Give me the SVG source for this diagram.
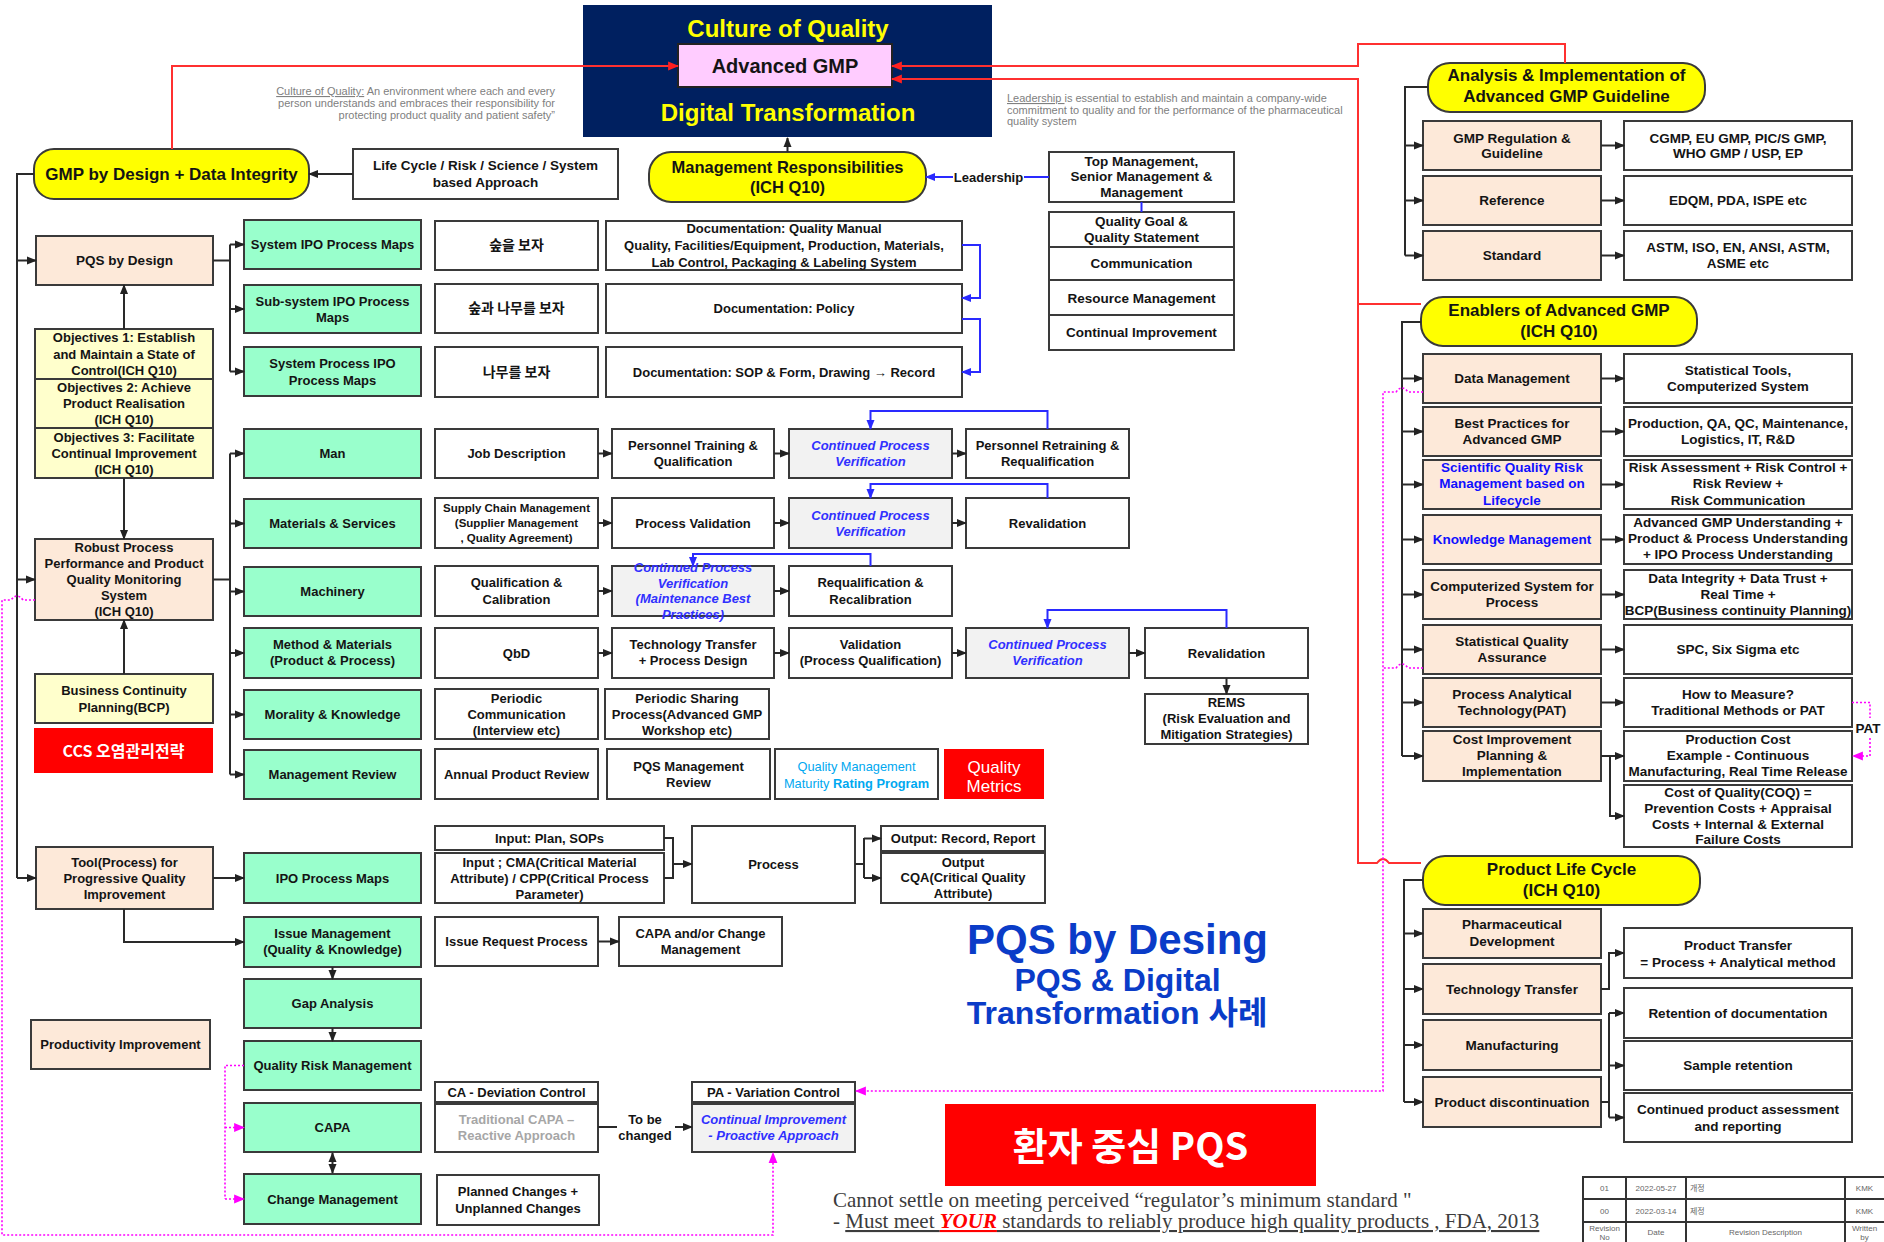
<svg xmlns="http://www.w3.org/2000/svg" width="1884" height="1242" viewBox="0 0 1884 1242">
<style>
text{font-family:"Liberation Sans","Noto Sans CJK KR",sans-serif;font-weight:700;font-size:13px;fill:#141414;text-anchor:middle}
.r text{font-size:13.5px}
.bx{stroke:#3a3a3a;stroke-width:2}
.pe{fill:#FDE9D9}.gr{fill:#99FFCC}.wh{fill:#fff}.ly{fill:#FFFFCC}.gy{fill:#F2F2F2}.yl{fill:#FFFF00}
text.ttl,.r text.ttl{font-size:17px}
.ko{font-family:"Noto Sans CJK KR",sans-serif;font-size:14px}
.cpv{fill:#3030ff;font-style:italic}
.blu{fill:#1010ff}
.note{font-weight:400;font-size:11px;fill:#808080}
.ln{fill:none;stroke:#2a2a2a;stroke-width:2}
.lb{fill:none;stroke:#2a2aff;stroke-width:2}
.lr{fill:none;stroke:#ff3030;stroke-width:2}
.lm{fill:none;stroke:#ff00ff;stroke-width:1.6;stroke-dasharray:2 2}
.tb{font-weight:400;font-size:8px;fill:#666}
</style>
<defs>
<marker id="ak" viewBox="0 0 10 10" refX="9" refY="5" markerWidth="10" markerHeight="10" markerUnits="userSpaceOnUse" orient="auto-start-reverse"><path d="M0,1 L10,5 L0,9 z" fill="#222"/></marker>
<marker id="ab" viewBox="0 0 10 10" refX="9" refY="5" markerWidth="10" markerHeight="10" markerUnits="userSpaceOnUse" orient="auto"><path d="M0,1 L10,5 L0,9 z" fill="#2a2aff"/></marker>
<marker id="ar" viewBox="0 0 10 10" refX="9" refY="5" markerWidth="11" markerHeight="11" markerUnits="userSpaceOnUse" orient="auto"><path d="M0,1 L10,5 L0,9 z" fill="#ff2020"/></marker>
<marker id="am" viewBox="0 0 10 10" refX="9" refY="5" markerWidth="11" markerHeight="11" markerUnits="userSpaceOnUse" orient="auto"><path d="M0,1 L10,5 L0,9 z" fill="#ff00ff"/></marker>
</defs>
<rect width="1884" height="1242" fill="#fff"/>

<!-- Top block: culture of quality -->
<g id="n-culture">
<rect x="583" y="5" width="409" height="132" fill="#002060"/>
<text x="788" y="37" style="font-size:24px;fill:#ffff00">Culture of Quality</text>
<text x="788" y="121" style="font-size:24px;fill:#ffff00">Digital Transformation</text>
</g>
<g id="n-advanced-gmp">
<rect x="678" y="44" width="214" height="43" fill="#FFCCFF" stroke="#222" stroke-width="2"/>
<text x="785" y="73" style="font-size:20px">Advanced GMP</text>
</g>
<g id="n-culture-note">
<text class="note" style="text-anchor:end" x="555" y="95"><tspan text-decoration="underline">Culture of Quality:</tspan> An environment where each and every</text>
<text class="note" style="text-anchor:end" x="555" y="107">person understands and embraces their responsibility for</text>
<text class="note" style="text-anchor:end" x="555" y="119">protecting product quality and patient safety”</text>
</g>
<g id="n-leadership-note">
<text class="note" style="text-anchor:start" x="1007" y="102"><tspan text-decoration="underline">Leadership </tspan>is essential to establish and maintain a company-wide</text>
<text class="note" style="text-anchor:start" x="1007" y="114">commitment to quality and for the performance of the pharmaceutical</text>
<text class="note" style="text-anchor:start" x="1007" y="125">quality system</text>
</g>

<!-- Management responsibilities -->
<g id="n-mgmt-resp">
<rect class="bx yl" x="649" y="152" width="277" height="50" rx="22"/>
<text x="787.5" y="173" style="font-size:16.5px">Management Responsibilities</text>
<text x="787.5" y="193" style="font-size:16.5px">(ICH Q10)</text>
</g>
<g id="n-top-mgmt">
<rect class="bx wh" x="1049" y="152" width="185" height="50"/>
<text x="1141.5" y="165.6" style="font-size:13.5px">Top Management,</text>
<text x="1141.5" y="181" style="font-size:13.5px">Senior Management &amp;</text>
<text x="1141.5" y="197" style="font-size:13.5px">Management</text>
</g>
<g id="n-quality-goal"><rect class="bx wh" x="1049" y="212" width="185" height="35"/>
<text x="1141.5" y="225.6" style="font-size:13.5px">Quality Goal &amp;</text><text x="1141.5" y="241.6" style="font-size:13.5px">Quality Statement</text></g>
<g id="n-communication"><rect class="bx wh" x="1049" y="247" width="185" height="33"/><text x="1141.5" y="268" style="font-size:13.5px">Communication</text></g>
<g id="n-resource"><rect class="bx wh" x="1049" y="280" width="185" height="35"/><text x="1141.5" y="302.6" style="font-size:13.5px">Resource Management</text></g>
<g id="n-continual"><rect class="bx wh" x="1049" y="315" width="185" height="35"/><text x="1141.5" y="336.6" style="font-size:13.5px">Continual Improvement</text></g>

<!-- Left column -->
<g id="n-gmp-design"><rect class="bx yl" x="34" y="149" width="275" height="50" rx="20"/><text class="ttl" x="171.5" y="180">GMP by Design + Data Integrity</text></g>
<g id="n-lifecycle"><rect class="bx wh" x="353" y="149" width="265" height="50"/>
<text x="485.5" y="170" style="font-size:13.5px">Life Cycle / Risk / Science / System</text><text x="485.5" y="187" style="font-size:13.5px">based Approach</text></g>
<g id="n-pqs-design"><rect class="bx pe" x="36" y="236" width="177" height="49"/><text x="124.5" y="265" style="font-size:13.5px">PQS by Design</text></g>
<g id="n-obj1"><rect class="bx ly" x="35" y="329" width="178" height="50"/>
<text x="124" y="342.3">Objectives 1: Establish</text><text x="124" y="358.6">and Maintain a State of</text><text x="124" y="374.9">Control(ICH Q10)</text></g>
<g id="n-obj2"><rect class="bx ly" x="35" y="379" width="178" height="49"/>
<text x="124" y="392">Objectives 2: Achieve</text><text x="124" y="408">Product Realisation</text><text x="124" y="424">(ICH Q10)</text></g>
<g id="n-obj3"><rect class="bx ly" x="35" y="428" width="178" height="50"/>
<text x="124" y="441.6">Objectives 3: Facilitate</text><text x="124" y="457.6">Continual Improvement</text><text x="124" y="473.6">(ICH Q10)</text></g>
<g id="n-robust"><rect class="bx pe" x="35" y="539" width="178" height="81"/>
<text x="124" y="551.6">Robust Process</text><text x="124" y="567.6">Performance and Product</text><text x="124" y="583.6">Quality Monitoring</text><text x="124" y="599.6">System</text><text x="124" y="615.6">(ICH Q10)</text></g>
<g id="n-bcp"><rect class="bx ly" x="35" y="674" width="178" height="49"/>
<text x="124" y="694.6">Business Continuity</text><text x="124" y="711.6">Planning(BCP)</text></g>
<g id="n-ccs"><rect x="34" y="728" width="179" height="45" fill="#ff0000"/>
<text x="123.5" y="757" style="font-family:'Noto Sans CJK KR',sans-serif;font-size:16px;fill:#fff">CCS 오염관리전략</text></g>
<g id="n-tool"><rect class="bx pe" x="36" y="847" width="177" height="62"/>
<text x="124.5" y="866.6">Tool(Process) for</text><text x="124.5" y="882.6">Progressive Quality</text><text x="124.5" y="898.6">Improvement</text></g>
<g id="n-productivity"><rect class="bx pe" x="31" y="1020" width="179" height="49"/><text x="120.5" y="1049">Productivity Improvement</text></g>

<!-- Green column -->
<g id="n-sys-ipo"><rect class="bx gr" x="244" y="220" width="177" height="49"/><text x="332.5" y="249">System IPO Process Maps</text></g>
<g id="n-subsys-ipo"><rect class="bx gr" x="244" y="285" width="177" height="48"/><text x="332.5" y="305.6">Sub-system IPO Process</text><text x="332.5" y="321.6">Maps</text></g>
<g id="n-sysproc-ipo"><rect class="bx gr" x="244" y="347" width="177" height="49"/><text x="332.5" y="367.6">System Process IPO</text><text x="332.5" y="384.6">Process Maps</text></g>
<g id="n-man"><rect class="bx gr" x="244" y="429" width="177" height="49"/><text x="332.5" y="458">Man</text></g>
<g id="n-materials"><rect class="bx gr" x="244" y="499" width="177" height="49"/><text x="332.5" y="528">Materials &amp; Services</text></g>
<g id="n-machinery"><rect class="bx gr" x="244" y="567" width="177" height="49"/><text x="332.5" y="596">Machinery</text></g>
<g id="n-method"><rect class="bx gr" x="244" y="628" width="177" height="50"/><text x="332.5" y="648.6">Method &amp; Materials</text><text x="332.5" y="664.6">(Product &amp; Process)</text></g>
<g id="n-morality"><rect class="bx gr" x="244" y="690" width="177" height="49"/><text x="332.5" y="719">Morality &amp; Knowledge</text></g>
<g id="n-mgmt-review"><rect class="bx gr" x="244" y="750" width="177" height="49"/><text x="332.5" y="779">Management Review</text></g>
<g id="n-ipo"><rect class="bx gr" x="244" y="853" width="177" height="50"/><text x="332.5" y="882.6">IPO Process Maps</text></g>
<g id="n-issue"><rect class="bx gr" x="244" y="917" width="177" height="50"/><text x="332.5" y="937.6">Issue Management</text><text x="332.5" y="953.6">(Quality &amp; Knowledge)</text></g>
<g id="n-gap"><rect class="bx gr" x="244" y="979" width="177" height="49"/><text x="332.5" y="1008">Gap Analysis</text></g>
<g id="n-qrm"><rect class="bx gr" x="244" y="1041" width="177" height="49"/><text x="332.5" y="1070">Quality Risk Management</text></g>
<g id="n-capa"><rect class="bx gr" x="244" y="1103" width="177" height="49"/><text x="332.5" y="1132">CAPA</text></g>
<g id="n-change"><rect class="bx gr" x="244" y="1174" width="177" height="50"/><text x="332.5" y="1203.6">Change Management</text></g>

<!-- Documentation rows -->
<g id="n-forest"><rect class="bx wh" x="435" y="221" width="163" height="49"/><text class="ko" x="516.5" y="250">숲을 보자</text></g>
<g id="n-forest-tree"><rect class="bx wh" x="435" y="284" width="163" height="49"/><text class="ko" x="516.5" y="313">숲과 나무를 보자</text></g>
<g id="n-tree"><rect class="bx wh" x="435" y="347" width="163" height="50"/><text class="ko" x="516.5" y="377">나무를 보자</text></g>
<g id="n-doc-manual"><rect class="bx wh" x="606" y="221" width="356" height="49"/>
<text x="784" y="232.6">Documentation: Quality Manual</text><text x="784" y="249.6">Quality, Facilities/Equipment, Production, Materials,</text><text x="784" y="266.6">Lab Control, Packaging &amp; Labeling System</text></g>
<g id="n-doc-policy"><rect class="bx wh" x="606" y="284" width="356" height="49"/><text x="784" y="313">Documentation: Policy</text></g>
<g id="n-doc-sop"><rect class="bx wh" x="606" y="347" width="356" height="50"/><text x="784" y="377">Documentation: SOP &amp; Form, Drawing → Record</text></g>

<!-- Man row -->
<g id="n-job"><rect class="bx wh" x="435" y="429" width="163" height="49"/><text x="516.5" y="458">Job Description</text></g>
<g id="n-training"><rect class="bx wh" x="612" y="429" width="162" height="49"/><text x="693" y="449.6">Personnel Training &amp;</text><text x="693" y="465.6">Qualification</text></g>
<g id="n-cpv-man"><rect class="bx gy" x="789" y="429" width="163" height="49"/><text class="cpv" x="870.5" y="449.6">Continued Process</text><text class="cpv" x="870.5" y="465.6">Verification</text></g>
<g id="n-retraining"><rect class="bx wh" x="966" y="429" width="163" height="49"/><text x="1047.5" y="449.6">Personnel Retraining &amp;</text><text x="1047.5" y="465.6">Requalification</text></g>

<!-- Materials row -->
<g id="n-supply"><rect class="bx wh" x="435" y="498" width="163" height="50"/>
<text x="516.5" y="512" style="font-size:11.5px">Supply Chain Management</text><text x="516.5" y="527" style="font-size:11.5px">(Supplier Management</text><text x="516.5" y="542" style="font-size:11.5px">, Quality Agreement)</text></g>
<g id="n-proc-val"><rect class="bx wh" x="612" y="498" width="162" height="50"/><text x="693" y="527.6">Process Validation</text></g>
<g id="n-cpv-mat"><rect class="bx gy" x="789" y="498" width="163" height="50"/><text class="cpv" x="870.5" y="519.6">Continued Process</text><text class="cpv" x="870.5" y="535.6">Verification</text></g>
<g id="n-reval-mat"><rect class="bx wh" x="966" y="498" width="163" height="50"/><text x="1047.5" y="527.6">Revalidation</text></g>

<!-- Machinery row -->
<g id="n-qual-cal"><rect class="bx wh" x="435" y="566" width="163" height="50"/><text x="516.5" y="586.6">Qualification &amp;</text><text x="516.5" y="603.6">Calibration</text></g>
<g id="n-cpv-mach"><rect class="bx gy" x="612" y="566" width="162" height="50"/>
<text class="cpv" x="693" y="571.6">Continued Process</text><text class="cpv" x="693" y="587.6">Verification</text><text class="cpv" x="693" y="602.6">(Maintenance Best</text><text class="cpv" x="693" y="618.6">Practices)</text></g>
<g id="n-requal"><rect class="bx wh" x="789" y="566" width="163" height="50"/><text x="870.5" y="586.6">Requalification &amp;</text><text x="870.5" y="603.6">Recalibration</text></g>

<!-- Method row -->
<g id="n-qbd"><rect class="bx wh" x="435" y="628" width="163" height="50"/><text x="516.5" y="657.6">QbD</text></g>
<g id="n-tech-design"><rect class="bx wh" x="612" y="628" width="162" height="50"/><text x="693" y="648.6">Technology Transfer</text><text x="693" y="665">+ Process Design</text></g>
<g id="n-validation"><rect class="bx wh" x="789" y="628" width="163" height="50"/><text x="870.5" y="648.6">Validation</text><text x="870.5" y="665">(Process Qualification)</text></g>
<g id="n-cpv-meth"><rect class="bx gy" x="966" y="628" width="163" height="50"/><text class="cpv" x="1047.5" y="648.6">Continued Process</text><text class="cpv" x="1047.5" y="665">Verification</text></g>
<g id="n-reval-meth"><rect class="bx wh" x="1145" y="628" width="163" height="50"/><text x="1226.5" y="657.6">Revalidation</text></g>
<g id="n-rems"><rect class="bx wh" x="1145" y="694" width="163" height="50"/><text x="1226.5" y="706.6">REMS</text><text x="1226.5" y="722.6">(Risk Evaluation and</text><text x="1226.5" y="738.6">Mitigation Strategies)</text></g>

<!-- Morality row -->
<g id="n-periodic-comm"><rect class="bx wh" x="435" y="689" width="163" height="50"/><text x="516.5" y="702.6">Periodic</text><text x="516.5" y="718.6">Communication</text><text x="516.5" y="734.6">(Interview etc)</text></g>
<g id="n-periodic-share"><rect class="bx wh" x="605" y="689" width="164" height="50"/><text x="687" y="702.6">Periodic Sharing</text><text x="687" y="718.6">Process(Advanced GMP</text><text x="687" y="734.6">Workshop etc)</text></g>

<!-- Management review row -->
<g id="n-apr"><rect class="bx wh" x="435" y="749" width="163" height="50"/><text x="516.5" y="778.6">Annual Product Review</text></g>
<g id="n-pqs-review"><rect class="bx wh" x="607" y="749" width="163" height="50"/><text x="688.5" y="770.6">PQS Management</text><text x="688.5" y="786.6">Review</text></g>
<g id="n-qmmrp"><rect class="bx wh" x="775" y="749" width="163" height="50"/>
<text x="856.5" y="771" style="font-size:12.8px;font-weight:400;fill:#00a8f0">Quality Management</text>
<text x="856.5" y="788" style="font-size:12.8px;font-weight:400;fill:#00a8f0">Maturity <tspan style="font-weight:700">Rating Program</tspan></text></g>
<g id="n-metrics"><rect x="944" y="749" width="100" height="50" fill="#ff0000"/>
<text x="994" y="773" style="font-size:17px;font-weight:400;fill:#fff">Quality</text><text x="994" y="792" style="font-size:17px;font-weight:400;fill:#fff">Metrics</text></g>

<!-- IPO row -->
<g id="n-input-plan"><rect class="bx wh" x="435" y="826" width="229" height="24"/><text x="549.5" y="842.6">Input: Plan, SOPs</text></g>
<g id="n-input-cma"><rect class="bx wh" x="435" y="853" width="229" height="50"/><text x="549.5" y="866.6">Input ; CMA(Critical Material</text><text x="549.5" y="882.6">Attribute) / CPP(Critical Process</text><text x="549.5" y="898.6">Parameter)</text></g>
<g id="n-process"><rect class="bx wh" x="692" y="826" width="163" height="77"/><text x="773.5" y="869">Process</text></g>
<g id="n-output-record"><rect class="bx wh" x="881" y="826" width="164" height="25"/><text x="963" y="842.6">Output: Record, Report</text></g>
<g id="n-output-cqa"><rect class="bx wh" x="881" y="853" width="164" height="50"/><text x="963" y="867">Output</text><text x="963" y="882.3">CQA(Critical Quality</text><text x="963" y="897.6">Attribute)</text></g>

<!-- Issue row -->
<g id="n-issue-req"><rect class="bx wh" x="435" y="917" width="163" height="49"/><text x="516.5" y="946">Issue Request Process</text></g>
<g id="n-capa-change"><rect class="bx wh" x="619" y="917" width="163" height="49"/><text x="700.5" y="937.6">CAPA and/or Change</text><text x="700.5" y="953.6">Management</text></g>

<!-- CA / PA -->
<g id="n-ca"><rect class="bx wh" x="435" y="1082" width="163" height="20"/><text x="516.5" y="1097">CA - Deviation Control</text>
<rect class="bx wh" x="435" y="1104" width="163" height="48"/><text x="516.5" y="1123.6" style="fill:#a6a6a6">Traditional CAPA –</text><text x="516.5" y="1139.6" style="fill:#a6a6a6">Reactive Approach</text></g>
<g id="n-to-be"><text x="645" y="1123.6">To be</text><text x="645" y="1139.6">changed</text></g>
<g id="n-pa"><rect class="bx wh" x="692" y="1082" width="163" height="20"/><text x="773.5" y="1097">PA - Variation Control</text>
<rect class="bx gy" x="692" y="1104" width="163" height="48"/><text class="cpv" x="773.5" y="1123.6">Continual Improvement</text><text class="cpv" x="773.5" y="1139.6">- Proactive Approach</text></g>
<g id="n-planned"><rect class="bx wh" x="437" y="1175" width="162" height="50"/><text x="518" y="1195.6">Planned Changes +</text><text x="518" y="1212.6">Unplanned Changes</text></g>

<!-- Right: Analysis & Implementation -->
<g class="r">
<g id="n-analysis"><rect class="bx yl" x="1428" y="63" width="277" height="49" rx="22"/><text class="ttl" x="1566.5" y="81">Analysis &amp; Implementation of</text><text class="ttl" x="1566.5" y="102">Advanced GMP Guideline</text></g>
<g id="n-gmp-reg"><rect class="bx pe" x="1423" y="121" width="178" height="49"/><text x="1512" y="142.7">GMP Regulation &amp;</text><text x="1512" y="157.7">Guideline</text></g>
<g id="n-cgmp"><rect class="bx wh" x="1624" y="121" width="228" height="49"/><text x="1738" y="142.7">CGMP, EU GMP, PIC/S GMP,</text><text x="1738" y="157.7">WHO GMP / USP, EP</text></g>
<g id="n-reference"><rect class="bx pe" x="1423" y="176" width="178" height="49"/><text x="1512" y="205.2">Reference</text></g>
<g id="n-edqm"><rect class="bx wh" x="1624" y="176" width="228" height="49"/><text x="1738" y="205.2">EDQM, PDA, ISPE etc</text></g>
<g id="n-standard"><rect class="bx pe" x="1423" y="231" width="178" height="49"/><text x="1512" y="260.2">Standard</text></g>
<g id="n-astm"><rect class="bx wh" x="1624" y="231" width="228" height="49"/><text x="1738" y="251.7">ASTM, ISO, EN, ANSI, ASTM,</text><text x="1738" y="267.7">ASME etc</text></g>

<!-- Right: Enablers -->
<g id="n-enablers"><rect class="bx yl" x="1421" y="297" width="276" height="49" rx="22"/><text class="ttl" x="1559" y="316">Enablers of Advanced GMP</text><text class="ttl" x="1559" y="337">(ICH Q10)</text></g>
<g id="n-data-mgmt"><rect class="bx pe" x="1423" y="354" width="178" height="49"/><text x="1512" y="383.2">Data Management</text></g>
<g id="n-stat-tools"><rect class="bx wh" x="1624" y="354" width="228" height="49"/><text x="1738" y="374.7">Statistical Tools,</text><text x="1738" y="390.7">Computerized System</text></g>
<g id="n-best"><rect class="bx pe" x="1423" y="407" width="178" height="49"/><text x="1512" y="427.7">Best Practices for</text><text x="1512" y="443.7">Advanced GMP</text></g>
<g id="n-production"><rect class="bx wh" x="1624" y="407" width="228" height="49"/><text x="1738" y="427.7">Production, QA, QC, Maintenance,</text><text x="1738" y="443.7">Logistics, IT, R&amp;D</text></g>
<g id="n-sqrm"><rect class="bx pe" x="1423" y="460" width="178" height="49"/><text class="blu" x="1512" y="471.7">Scientific Quality Risk</text><text class="blu" x="1512" y="488.2">Management based on</text><text class="blu" x="1512" y="504.7">Lifecycle</text></g>
<g id="n-risk"><rect class="bx wh" x="1624" y="460" width="228" height="49"/><text x="1738" y="471.7">Risk Assessment + Risk Control +</text><text x="1738" y="488.2">Risk Review +</text><text x="1738" y="504.7">Risk Communication</text></g>
<g id="n-km"><rect class="bx pe" x="1423" y="515" width="178" height="49"/><text class="blu" x="1512" y="544.2">Knowledge Management</text></g>
<g id="n-understanding"><rect class="bx wh" x="1624" y="515" width="228" height="49"/><text x="1738" y="526.7">Advanced GMP Understanding +</text><text x="1738" y="542.7">Product &amp; Process Understanding</text><text x="1738" y="558.7">+ IPO Process Understanding</text></g>
<g id="n-comp-sys"><rect class="bx pe" x="1423" y="570" width="178" height="49"/><text x="1512" y="590.7">Computerized System for</text><text x="1512" y="606.7">Process</text></g>
<g id="n-di"><rect class="bx wh" x="1624" y="570" width="228" height="49"/><text x="1738" y="582.7">Data Integrity + Data Trust +</text><text x="1738" y="598.7">Real Time +</text><text x="1738" y="614.7">BCP(Business continuity Planning)</text></g>
<g id="n-sqa"><rect class="bx pe" x="1423" y="625" width="178" height="49"/><text x="1512" y="645.7">Statistical Quality</text><text x="1512" y="661.7">Assurance</text></g>
<g id="n-spc"><rect class="bx wh" x="1624" y="625" width="228" height="49"/><text x="1738" y="654.2">SPC, Six Sigma etc</text></g>
<g id="n-pat"><rect class="bx pe" x="1423" y="678" width="178" height="49"/><text x="1512" y="698.7">Process Analytical</text><text x="1512" y="714.7">Technology(PAT)</text></g>
<g id="n-measure"><rect class="bx wh" x="1624" y="678" width="228" height="49"/><text x="1738" y="698.7">How to Measure?</text><text x="1738" y="714.7">Traditional Methods or PAT</text></g>
<g id="n-cost"><rect class="bx pe" x="1423" y="731" width="178" height="50"/><text x="1512" y="743.7">Cost Improvement</text><text x="1512" y="759.7">Planning &amp;</text><text x="1512" y="776.2">Implementation</text></g>
<g id="n-prod-cost"><rect class="bx wh" x="1624" y="731" width="228" height="50"/><text x="1738" y="743.7">Production Cost</text><text x="1738" y="759.7">Example - Continuous</text><text x="1738" y="776.2">Manufacturing, Real Time Release</text></g>
<g id="n-coq"><rect class="bx wh" x="1624" y="785" width="228" height="62"/><text x="1738" y="796.7">Cost of Quality(COQ)  =</text><text x="1738" y="812.7">Prevention Costs + Appraisal</text><text x="1738" y="828.7">Costs + Internal &amp; External</text><text x="1738" y="843.7">Failure Costs</text></g>
<g id="n-pat-label"><text x="1868" y="733">PAT</text></g>

<!-- Right: Product life cycle -->
<g id="n-plc"><rect class="bx yl" x="1423" y="856" width="277" height="49" rx="22"/><text class="ttl" x="1561.5" y="875">Product Life Cycle</text><text class="ttl" x="1561.5" y="896">(ICH Q10)</text></g>
<g id="n-pharm-dev"><rect class="bx pe" x="1423" y="909" width="178" height="49"/><text x="1512" y="928.7">Pharmaceutical</text><text x="1512" y="945.7">Development</text></g>
<g id="n-tech-transfer"><rect class="bx pe" x="1423" y="964" width="178" height="50"/><text x="1512" y="993.7">Technology Transfer</text></g>
<g id="n-manufacturing"><rect class="bx pe" x="1423" y="1020" width="178" height="50"/><text x="1512" y="1049.7">Manufacturing</text></g>
<g id="n-discontinuation"><rect class="bx pe" x="1423" y="1077" width="178" height="50"/><text x="1512" y="1106.7">Product discontinuation</text></g>
<g id="n-product-transfer"><rect class="bx wh" x="1624" y="928" width="228" height="50"/><text x="1738" y="949.7">Product Transfer</text><text x="1738" y="966.7">= Process + Analytical method</text></g>
<g id="n-retention-doc"><rect class="bx wh" x="1624" y="988" width="228" height="50"/><text x="1738" y="1017.7">Retention of documentation</text></g>
<g id="n-sample"><rect class="bx wh" x="1624" y="1041" width="228" height="49"/><text x="1738" y="1070.2">Sample retention</text></g>
<g id="n-continued"><rect class="bx wh" x="1624" y="1093" width="228" height="49"/><text x="1738" y="1113.7">Continued product assessment</text><text x="1738" y="1130.7">and reporting</text></g>
</g>

<!-- Titles -->
<g id="n-title">
<text x="1117.5" y="954" style="font-size:42px;fill:#0a3cc8">PQS by Desing</text>
<text x="1117.5" y="991" style="font-size:32px;fill:#0a3cc8">PQS &amp; Digital</text>
<text x="1117" y="1024" style="font-size:32px;fill:#0a3cc8">Transformation 사례</text>
</g>
<g id="n-patient"><rect x="945" y="1104" width="371" height="82" fill="#ff0000"/>
<text x="1130.5" y="1160" style="font-family:'Noto Sans CJK KR',sans-serif;font-size:38px;fill:#fff">환자 중심 PQS</text></g>
<g id="n-quote">
<text x="833" y="1207" style="font-family:'Liberation Serif',serif;font-weight:400;font-size:21px;fill:#3c3c3c;text-anchor:start">Cannot settle on meeting perceived “regulator’s minimum standard "</text>
<text x="833" y="1228" style="font-family:'Liberation Serif',serif;font-weight:400;font-size:21px;fill:#3c3c3c;text-anchor:start">- <tspan text-decoration="underline">Must meet </tspan><tspan text-decoration="underline" style="fill:#ff0000;font-weight:700;font-style:italic">YOUR</tspan><tspan text-decoration="underline"> standards to reliably produce high quality products , FDA, 2013</tspan></text>
</g>

<!-- Revision table -->
<g id="n-revision">
<rect x="1583" y="1177" width="310" height="80" fill="#fff" stroke="#333" stroke-width="2"/>
<path d="M1583,1199 H1884 M1583,1222 H1884 M1626,1177 V1242 M1686,1177 V1242 M1845,1177 V1242" stroke="#333" stroke-width="2" fill="none"/>
<text class="tb" x="1604.5" y="1191">01</text><text class="tb" x="1656" y="1191">2022-05-27</text><text class="tb" x="1690" y="1191" style="text-anchor:start">개정</text><text class="tb" x="1864.5" y="1191">KMK</text>
<text class="tb" x="1604.5" y="1213.5">00</text><text class="tb" x="1656" y="1213.5">2022-03-14</text><text class="tb" x="1690" y="1213.5" style="text-anchor:start">제정</text><text class="tb" x="1864.5" y="1213.5">KMK</text>
<text class="tb" x="1604.5" y="1231">Revision</text><text class="tb" x="1604.5" y="1240">No</text><text class="tb" x="1656" y="1235">Date</text><text class="tb" x="1765.5" y="1235">Revision Description</text><text class="tb" x="1864.5" y="1231">Written</text><text class="tb" x="1864.5" y="1240">by</text>
</g>

<!-- Connectors -->
<g id="connectors">
<!-- left trunk -->
<path class="ln" d="M34,174 H17 V878"/>
<path class="ln" d="M17,260.5 H36" marker-end="url(#ak)"/>
<path class="ln" d="M17,579.5 H35" marker-end="url(#ak)"/>
<path class="ln" d="M17,878 H36" marker-end="url(#ak)"/>
<path class="ln" d="M353,174 H309" marker-end="url(#ak)"/>
<path class="ln" d="M124,329 V285" marker-end="url(#ak)"/>
<path class="ln" d="M124,478 V539" marker-end="url(#ak)"/>
<path class="ln" d="M124,674 V620" marker-end="url(#ak)"/>
<!-- PQS by design branch -->
<path class="ln" d="M213,260.5 H230 M230,244.5 V371.5"/>
<path class="ln" d="M230,244.5 H244" marker-end="url(#ak)"/>
<path class="ln" d="M230,309 H244" marker-end="url(#ak)"/>
<path class="ln" d="M230,371.5 H244" marker-end="url(#ak)"/>
<!-- robust process branch -->
<path class="ln" d="M213,579.5 H230 M230,453.5 V774.5"/>
<path class="ln" d="M230,453.5 H244" marker-end="url(#ak)"/>
<path class="ln" d="M230,523.5 H244" marker-end="url(#ak)"/>
<path class="ln" d="M230,591.5 H244" marker-end="url(#ak)"/>
<path class="ln" d="M230,653 H244" marker-end="url(#ak)"/>
<path class="ln" d="M230,714.5 H244" marker-end="url(#ak)"/>
<path class="ln" d="M230,774.5 H244" marker-end="url(#ak)"/>
<!-- tool branch -->
<path class="ln" d="M213,878 H244" marker-end="url(#ak)"/>
<path class="ln" d="M124,909 V942 H244" marker-end="url(#ak)"/>
<path class="ln" d="M332.5,967 V979" marker-end="url(#ak)"/>
<path class="ln" d="M332.5,1028 V1041" marker-end="url(#ak)"/>
<path class="ln" d="M332.5,1153 V1173" marker-start="url(#ak)" marker-end="url(#ak)"/>
<!-- row flows -->
<path class="ln" d="M598,453.5 H612" marker-end="url(#ak)"/>
<path class="ln" d="M774,453.5 H789" marker-end="url(#ak)"/>
<path class="ln" d="M952,453.5 H966" marker-end="url(#ak)"/>
<path class="ln" d="M598,523 H612" marker-end="url(#ak)"/>
<path class="ln" d="M774,523 H789" marker-end="url(#ak)"/>
<path class="ln" d="M952,523 H966" marker-end="url(#ak)"/>
<path class="ln" d="M598,591 H612" marker-end="url(#ak)"/>
<path class="ln" d="M774,591 H789" marker-end="url(#ak)"/>
<path class="ln" d="M598,653 H612" marker-end="url(#ak)"/>
<path class="ln" d="M774,653 H789" marker-end="url(#ak)"/>
<path class="ln" d="M952,653 H966" marker-end="url(#ak)"/>
<path class="ln" d="M1129,653 H1145" marker-end="url(#ak)"/>
<path class="ln" d="M1226.5,678 V694" marker-end="url(#ak)"/>
<!-- IPO -->
<path class="ln" d="M664,838 H673 V878 H664"/>
<path class="ln" d="M673,864 H692" marker-end="url(#ak)"/>
<path class="ln" d="M855,864 H864 M864,838 V878"/>
<path class="ln" d="M864,838.5 H881" marker-end="url(#ak)"/>
<path class="ln" d="M864,878 H881" marker-end="url(#ak)"/>
<path class="ln" d="M598,941.5 H619" marker-end="url(#ak)"/>
<path class="ln" d="M598,1127 H617"/>
<path class="ln" d="M675,1127 H692" marker-end="url(#ak)"/>
<!-- blue feedback loops -->
<path class="lb" d="M962,245 H980 V298 H962" marker-end="url(#ab)"/>
<path class="lb" d="M962,319 H980 V372 H962" marker-end="url(#ab)"/>
<path class="lb" d="M1047.5,429 V411 H870.5 V429" marker-end="url(#ab)"/>
<path class="lb" d="M1047.5,498 V484 H870.5 V498" marker-end="url(#ab)"/>
<path class="lb" d="M870.5,566 V554 H693 V566" marker-end="url(#ab)"/>
<path class="lb" d="M1226.5,628 V610 H1047.5 V628" marker-end="url(#ab)"/>
<path class="lb" d="M1049,177 H1024 M953,177 H926" marker-end="url(#ab)"/>
<path class="lb" d="M1141.5,202 V212"/>
<text x="988.5" y="181.5">Leadership</text>
<!-- management to culture -->
<path class="ln" d="M787.5,152 V138" marker-end="url(#ak)"/>
<!-- red links to Advanced GMP -->
<path class="lr" d="M172,149 V66 H678" marker-end="url(#ar)"/>
<path class="lr" d="M1565,63 V44 H1358 V66 H892" marker-end="url(#ar)"/>
<path class="lr" d="M1421,863 H1389 Q1383,855 1377,863 H1358 V79 H892" marker-end="url(#ar)"/>
<path class="lr" d="M1421,304 H1358"/>
<!-- analysis branch -->
<path class="ln" d="M1428,87 H1405 V255.5"/>
<path class="ln" d="M1405,145.5 H1423" marker-end="url(#ak)"/>
<path class="ln" d="M1405,200.5 H1423" marker-end="url(#ak)"/>
<path class="ln" d="M1405,255.5 H1423" marker-end="url(#ak)"/>
<path class="ln" d="M1601,145.5 H1624" marker-end="url(#ak)"/>
<path class="ln" d="M1601,200.5 H1624" marker-end="url(#ak)"/>
<path class="ln" d="M1601,255.5 H1624" marker-end="url(#ak)"/>
<!-- enablers branch -->
<path class="ln" d="M1421,322 H1402 V756"/>
<path class="ln" d="M1402,378.5 H1423" marker-end="url(#ak)"/>
<path class="ln" d="M1402,431.5 H1423" marker-end="url(#ak)"/>
<path class="ln" d="M1402,484.5 H1423" marker-end="url(#ak)"/>
<path class="ln" d="M1402,539.5 H1423" marker-end="url(#ak)"/>
<path class="ln" d="M1402,594.5 H1423" marker-end="url(#ak)"/>
<path class="ln" d="M1402,649.5 H1423" marker-end="url(#ak)"/>
<path class="ln" d="M1402,702.5 H1423" marker-end="url(#ak)"/>
<path class="ln" d="M1402,756 H1423" marker-end="url(#ak)"/>
<path class="ln" d="M1601,378.5 H1624" marker-end="url(#ak)"/>
<path class="ln" d="M1601,431.5 H1624" marker-end="url(#ak)"/>
<path class="ln" d="M1601,484.5 H1624" marker-end="url(#ak)"/>
<path class="ln" d="M1601,539.5 H1624" marker-end="url(#ak)"/>
<path class="ln" d="M1601,594.5 H1624" marker-end="url(#ak)"/>
<path class="ln" d="M1601,649.5 H1624" marker-end="url(#ak)"/>
<path class="ln" d="M1601,702.5 H1624" marker-end="url(#ak)"/>
<path class="ln" d="M1601,756 H1624" marker-end="url(#ak)"/>
<path class="ln" d="M1610,756 V816 H1624" marker-end="url(#ak)"/>
<!-- product life cycle branch -->
<path class="ln" d="M1423,880 H1404 V1102"/>
<path class="ln" d="M1404,933.5 H1423" marker-end="url(#ak)"/>
<path class="ln" d="M1404,989 H1423" marker-end="url(#ak)"/>
<path class="ln" d="M1404,1045 H1423" marker-end="url(#ak)"/>
<path class="ln" d="M1404,1102 H1423" marker-end="url(#ak)"/>
<path class="ln" d="M1601,989 H1609 V953 H1624" marker-end="url(#ak)"/>
<path class="ln" d="M1601,1102 H1609 M1609,1013 V1117.5"/>
<path class="ln" d="M1609,1013 H1624" marker-end="url(#ak)"/>
<path class="ln" d="M1609,1065.5 H1624" marker-end="url(#ak)"/>
<path class="ln" d="M1609,1117.5 H1624" marker-end="url(#ak)"/>
<!-- magenta dotted links -->
<path class="lm" d="M244,1065.5 H225 V1199"/>
<path class="lm" d="M225,1127.5 H244" marker-end="url(#am)"/>
<path class="lm" d="M225,1199 H244" marker-end="url(#am)"/>
<path class="lm" d="M35,600 H23 Q17,592 11,600 H2 V1235 H773 V1153" marker-end="url(#am)"/>
<path class="lm" d="M1423,392 H1408 Q1402,384 1396,392 H1383 V1091 H856" marker-end="url(#am)"/>
<path class="lm" d="M1423,668 H1408 Q1402,660 1396,668 H1383"/>
<path class="lm" d="M1852,702.5 H1870 V718"/>
<path class="lm" d="M1870,738 V756 H1853" marker-end="url(#am)"/>
</g>
</svg>
